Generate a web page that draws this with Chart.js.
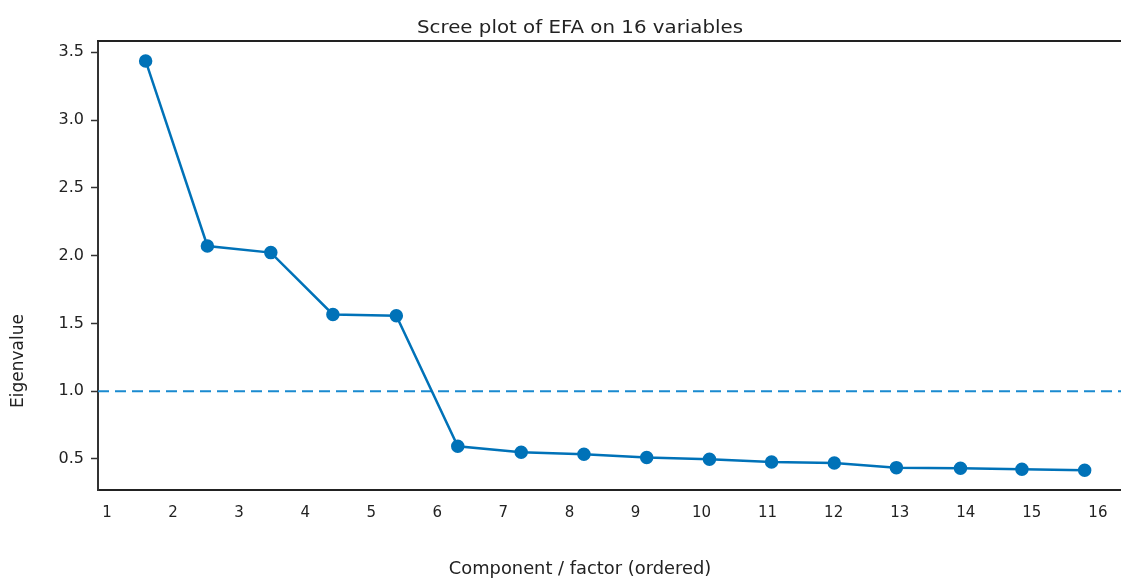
<!DOCTYPE html>
<html>
<head>
<meta charset="utf-8">
<script src="https://cdn.jsdelivr.net/npm/chart.js@4.4.1/dist/chart.umd.min.js"></script>
<style>
  html, body { margin: 0; padding: 0; background: #fff; overflow: hidden; }
  canvas { display: block; }
</style>
</head>
<body>
<canvas id="scree" width="1121" height="579"></canvas>
<script>
// ==== Data ====
var componentX = [1.585, 2.52, 3.48, 4.42, 5.38, 6.31, 7.27, 8.22, 9.17, 10.12, 11.06, 12.01, 12.95, 13.92, 14.85, 15.80]
var eigenvalues = [3.436, 2.071, 2.022, 1.566, 1.557, 0.594, 0.549, 0.534, 0.510, 0.498, 0.478, 0.470, 0.436, 0.431, 0.424, 0.416]
var xTicks = [1, 2, 3, 4, 5, 6, 7, 8, 9, 10, 11, 12, 13, 14, 15, 16]
var yTicks = [0.5, 1.0, 1.5, 2.0, 2.5, 3.0, 3.5]
var kaiserLine = 1.0
var xRange = [0.864, 16.35]
var yRange = [0.271, 3.583]

var titleText = 'Scree plot of EFA on 16 variables'
var xTitle = 'Component / factor (ordered)'
var yTitle = 'Eigenvalue'

var FONT = "'DejaVu Sans', sans-serif"

// points for the main line
var screePoints = []
for (var i in eigenvalues) {
    screePoints.push({ x: componentX[i], y: eigenvalues[i] })
}

// the original picture is a bit wider than tall, stretch the text the same way
function wideText(ctx, txt, cx, y, stretch) {
    ctx.save()
    ctx.translate(cx, y)
    ctx.scale(stretch, 1)
    ctx.fillText(txt, 0, 0)
    ctx.restore()
}

// === top spine + the texts (placed like the original figure) ===
var frameAndText = {
    id: 'frameAndText',
    afterDraw: function(chart) {
        var ctx = chart.ctx
        var area = chart.chartArea
        ctx.save()
        ctx.strokeStyle = '#222'
        ctx.lineWidth = 2
        ctx.beginPath()
        ctx.moveTo(area.left - 1, area.top)
        ctx.lineTo(area.right, area.top)
        ctx.stroke()

        ctx.fillStyle = '#222'
        ctx.textAlign = 'center'
        ctx.textBaseline = 'alphabetic'
        ctx.font = '18px ' + FONT
        wideText(ctx, titleText, 580, 32.5, 1.10)

        ctx.font = '17px ' + FONT
        wideText(ctx, xTitle, 580, 574, 1.05)

        ctx.textBaseline = 'middle'
        ctx.translate(19, 361)
        ctx.rotate(-Math.PI / 2)
        ctx.fillText(yTitle, 0, 0)
        ctx.restore()
    }
}

var config = {
    type: 'scatter',
    data: {
        datasets: [{
            data: screePoints,
            showLine: true,
            borderColor: '#0072b8',
            backgroundColor: '#0072b8',
            borderWidth: 2.5,
            pointRadius: 5.5,
            pointHoverRadius: 5.5,
            order: 1
        }, {
            // Kaiser criterion: eigenvalue = 1
            data: [{ x: xRange[0], y: kaiserLine }, { x: xRange[1], y: kaiserLine }],
            showLine: true,
            borderColor: '#1a8ad0',
            borderWidth: 2,
            borderDash: [11, 6],
            pointRadius: 0,
            pointHoverRadius: 0,
            order: 2
        }]
    },
    options: {
        responsive: false,
        animation: false,
        layout: {
            autoPadding: false,
            padding: { top: 41, right: 0, bottom: 0, left: 0 }
        },
        plugins: {
            legend: { display: false },
            tooltip: { enabled: false }
        },
        scales: {
            x: {
                type: 'linear',
                min: xRange[0],
                max: xRange[1],
                afterBuildTicks: function(axis) {
                    axis.ticks = xTicks.map(function(v) { return { value: v } })
                },
                afterFit: function(axis) {
                    axis.height = 89
                    axis.paddingLeft = 0
                    axis.paddingRight = 0
                },
                grid: { drawOnChartArea: false, drawTicks: false },
                border: { color: '#222', width: 2 },
                ticks: {
                    padding: 14,
                    color: '#222',
                    font: { family: FONT, size: 15 },
                    maxRotation: 0,
                    callback: function(v) { return v }
                }
            },
            y: {
                min: yRange[0],
                max: yRange[1],
                afterBuildTicks: function(axis) {
                    axis.ticks = yTicks.map(function(v) { return { value: v } })
                },
                afterFit: function(axis) {
                    axis.width = 98
                    axis.paddingTop = 0
                    axis.paddingBottom = 0
                },
                grid: { drawOnChartArea: false, drawTicks: true, tickLength: 7, tickColor: '#333', tickWidth: 1.5 },
                border: { color: '#333', width: 2 },
                ticks: {
                    padding: 7,
                    color: '#222',
                    font: { family: FONT, size: 16 },
                    callback: function(v) { return v.toFixed(1) }
                }
            }
        }
    },
    plugins: [frameAndText]
}

new Chart(document.getElementById('scree').getContext('2d'), config)
</script>
</body>
</html>
